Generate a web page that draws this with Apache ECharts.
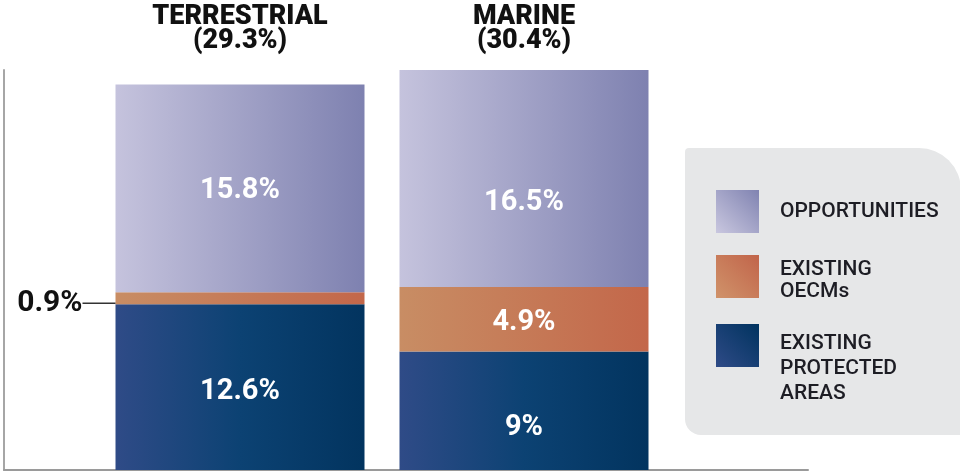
<!DOCTYPE html>
<html>
<head>
<meta charset="utf-8">
<script src="https://cdn.jsdelivr.net/npm/echarts@6/dist/echarts.min.js"></script>
<style>
html,body{margin:0;padding:0;background:#fff;}
#chart{width:960px;height:473px;}
</style>
</head>
<body>
<div id="chart"></div>
<script>
// ---- data ----
const categories = ['TERRESTRIAL', 'MARINE'];
const protectedAreas = [12.6, 9];
const oecms = [0.9, 4.9];
const opportunities = [15.8, 16.5];
const seriesNames = ['Existing protected areas', 'Existing OECMs', 'Opportunities'];
const legendLabels = [['EXISTING', 'PROTECTED', 'AREAS'], ['EXISTING', 'OECMs'], ['OPPORTUNITIES']];

// ---- styles ----
const FONT = 'Roboto';
const grad = (stops, diag) => new echarts.graphic.LinearGradient(0, diag ? 1 : 0, 1, 0,
  stops.map((c, i) => ({ offset: i / (stops.length - 1), color: c })));
const colProt = ['#2f4b87', '#0c4273', '#02345f'];
const colOecm = ['#c88d64', '#c3674a'];
const colOpp = ['#c5c3dd', '#7e81b0'];
// label vertical offsets (px) per series per category
const offProt = [5, 17];
const offOecm = [5, 3];
const offOpp = [2, 24];
// legend spacer heights / line heights (layout only)
const legendSpacer = [47, 8, 0];
const legendLineH = [25, 22, 23];

const totals = categories.map((c, i) => +(protectedAreas[i] + oecms[i] + opportunities[i]).toFixed(1));
const fmt = v => v + '%';

const innerLabel = {
  show: true, position: 'inside', color: '#ffffff', fontFamily: FONT,
  fontWeight: 'bold', fontSize: 29, formatter: p => fmt(p.value)
};

function buildData(vals, offs, special) {
  return vals.map((v, i) => {
    const item = { value: v, label: { offset: [0, offs[i]] } };
    if (special && special[i]) Object.assign(item, special[i]);
    return item;
  });
}

const chart = echarts.init(document.getElementById('chart'), null, { renderer: 'canvas' });

function legendFor(idx, top, colors) {
  const lh = legendLineH[idx];
  const sp = legendSpacer[idx];
  return {
    orient: 'vertical', left: 716, top: top, itemWidth: 43, itemHeight: 43, padding: 0,
    selectedMode: false, icon: 'rect',
    data: [{ name: seriesNames[idx], itemStyle: { color: grad(colors, true) } }],
    formatter: () => (sp ? '{s| }\n' : '') + legendLabels[idx].map(t => '{a|' + t + '}').join('\n'),
    textStyle: {
      padding: [0, 0, 0, 16],
      rich: {
        s: { fontSize: 10, lineHeight: sp, height: sp },
        a: { fontFamily: FONT, fontWeight: 500, fontSize: 21, color: '#1d1d24', lineHeight: lh }
      }
    }
  };
}

const option = {
  animation: false,
  backgroundColor: '#ffffff',
  graphic: [{
    type: 'rect', z: 0,
    shape: { x: 685, y: 148, width: 276, height: 287, r: [4, 42, 0, 16] },
    style: { fill: '#e6e7e8' }
  }],
  grid: [
    { left: 98, top: 70, width: 568, bottom: 3 },
    { left: 4, top: 70, right: 152, bottom: 3 }
  ],
  xAxis: [
    {
      type: 'category', gridIndex: 0, data: categories, position: 'top',
      axisLine: { show: false }, axisTick: { show: false },
      axisLabel: {
        margin: 17, interval: 0, lineHeight: 24,
        formatter: (v, i) => '{t|' + v + '}\n{t|(' + totals[i] + '%)}',
        rich: { t: { fontFamily: FONT, fontWeight: 900, fontSize: 27, lineHeight: 24, height: 24, color: '#111111' } }
      }
    },
    {
      type: 'value', gridIndex: 1, min: 0, max: 1,
      axisLine: { show: true, lineStyle: { color: '#9a9a9a', width: 2 } },
      axisTick: { show: false }, axisLabel: { show: false }, splitLine: { show: false }
    }
  ],
  yAxis: [
    {
      type: 'value', gridIndex: 0, min: 0, max: 30.4,
      axisLine: { show: false }, axisTick: { show: false },
      axisLabel: { show: false }, splitLine: { show: false }
    },
    {
      type: 'value', gridIndex: 1, min: 0, max: 1,
      axisLine: { show: true, lineStyle: { color: '#a6a6a6', width: 2 } },
      axisTick: { show: false }, axisLabel: { show: false }, splitLine: { show: false }
    }
  ],
  legend: [
    legendFor(2, 190, ['#c9c7df', '#8083b1']),
    legendFor(1, 249.5, ['#d0936a', '#c1644a']),
    legendFor(0, 284.5, ['#2f4b87', '#00335f'])
  ],
  series: [
    {
      name: seriesNames[0], type: 'bar', stack: 'total', barWidth: 249,
      xAxisIndex: 0, yAxisIndex: 0,
      itemStyle: { color: grad(colProt) },
      label: innerLabel,
      data: buildData(protectedAreas, offProt)
    },
    {
      name: seriesNames[1], type: 'bar', stack: 'total', barWidth: 249,
      xAxisIndex: 0, yAxisIndex: 0,
      itemStyle: { color: grad(colOecm) },
      label: innerLabel,
      data: buildData(oecms, offOecm, {
        0: {
          label: {
            show: true, position: 'left', distance: 0, offset: [0, offOecm[0]],
            formatter: p => '{v|' + fmt(p.value) + '}{l| }',
            rich: {
              v: { color: '#111111', fontFamily: FONT, fontWeight: 'bold', fontSize: 30 },
              l: { width: 33, height: 1.5, backgroundColor: '#333333', verticalAlign: 'middle', fontSize: 1 }
            }
          }
        }
      })
    },
    {
      name: seriesNames[2], type: 'bar', stack: 'total', barWidth: 249,
      xAxisIndex: 0, yAxisIndex: 0,
      itemStyle: { color: grad(colOpp) },
      label: innerLabel,
      data: buildData(opportunities, offOpp)
    }
  ]
};
chart.setOption(option);
</script>
</body>
</html>
